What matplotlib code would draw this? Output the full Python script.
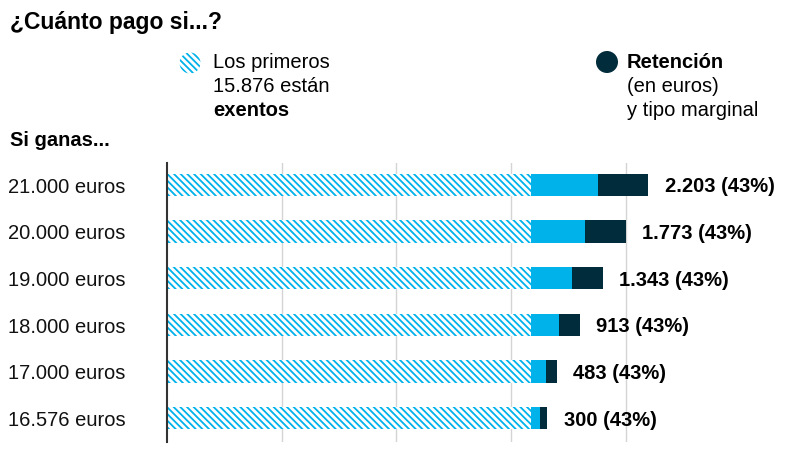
import matplotlib.pyplot as plt
import matplotlib.transforms as mtransforms
from matplotlib.patches import Ellipse

plt.rcParams['font.family'] = ['Liberation Sans', 'DejaVu Sans']
plt.rcParams['hatch.linewidth'] = 1.3

# datos
ingresos = [16576, 17000, 18000, 19000, 20000, 21000]
retencion = [300, 483, 913, 1343, 1773, 2203]
tipo = [43, 43, 43, 43, 43, 43]
exento = 15876
etiquetas = ['16.576 euros', '17.000 euros', '18.000 euros', '19.000 euros', '20.000 euros', '21.000 euros']

azul = '#00b2ea'
oscuro = '#002c3b'
rayas = '\\' * 5

W, H = 810, 466
fig = plt.figure(figsize=(W / 100, H / 100), dpi=100)
# ejes en pixeles: x 167..797, y 163..442 (desde arriba)
ax = fig.add_axes([167 / W, 1 - 442 / H, 630 / W, (442 - 163) / H])

px_por_euro = (531 - 167) / exento
ax.set_xlim(0, 630 / px_por_euro)
ax.set_ylim(-0.515, 5.47)

y = list(range(len(ingresos)))
neto = [i - r for i, r in zip(ingresos, retencion)]

ax.barh(y, [exento] * len(y), height=0.48, color='white', edgecolor=azul, hatch=rayas, linewidth=0, zorder=2)
ax.barh(y, [n - exento for n in neto], left=exento, height=0.48, color=azul, linewidth=0, zorder=2)
ax.barh(y, retencion, left=neto, height=0.48, color=oscuro, linewidth=0, zorder=2)

for yi, ing, r, t in zip(y, ingresos, retencion, tipo):
    txt = f"{r:,}".replace(",", ".") + f" ({t}%)"
    ax.annotate(txt, (ing, yi), xytext=(12, -1.5), textcoords='offset points',
                va='center', ha='left', fontsize=14.5, fontweight='bold', color='black')

# etiquetas a la izquierda
trans = mtransforms.blended_transform_factory(fig.transFigure, ax.transData)
for yi, lab in zip(y, etiquetas):
    ax.text(8 / W, yi - 0.05, lab, transform=trans, ha='left', va='center', fontsize=14.5, color='#111111')

for g in [5000, 10000, 15000, 20000]:
    ax.axvline(g, color='#d4d4d4', lw=1, zorder=1)

ax.set_xticks([])
ax.set_yticks([])
for s in ['top', 'right', 'bottom']:
    ax.spines[s].set_visible(False)
ax.spines['left'].set_color('#333333')
ax.spines['left'].set_linewidth(1.5)
ax.spines['left'].set_zorder(3)

# titulo y leyenda
fig.text(10 / W, 1 - 22 / H, '¿Cuánto pago si...?', fontsize=16.5, fontweight='bold', va='center', ha='left')
fig.text(10 / W, 1 - 141 / H, 'Si ganas...', fontsize=14.5, fontweight='bold', va='center', ha='left')

fig.add_artist(Ellipse((190 / W, 1 - 63 / H), 21 / W, 21 / H, transform=fig.transFigure,
                       facecolor='white', edgecolor=azul, hatch=rayas, linewidth=0))
fig.text(213 / W, 1 - 63 / H, 'Los primeros', fontsize=14.5, va='center', ha='left')
fig.text(213 / W, 1 - 87 / H, '15.876 están', fontsize=14.5, va='center', ha='left')
fig.text(213 / W, 1 - 111 / H, 'exentos', fontsize=14.5, fontweight='bold', va='center', ha='left')

fig.add_artist(Ellipse((607 / W, 1 - 62 / H), 22 / W, 22 / H, transform=fig.transFigure,
                       facecolor=oscuro, linewidth=0))
fig.text(627 / W, 1 - 63 / H, 'Retención', fontsize=14.5, fontweight='bold', va='center', ha='left')
fig.text(627 / W, 1 - 87 / H, '(en euros)', fontsize=14.5, va='center', ha='left')
fig.text(627 / W, 1 - 111 / H, 'y tipo marginal', fontsize=14.5, va='center', ha='left')

fig.savefig('out.png', dpi=100)
